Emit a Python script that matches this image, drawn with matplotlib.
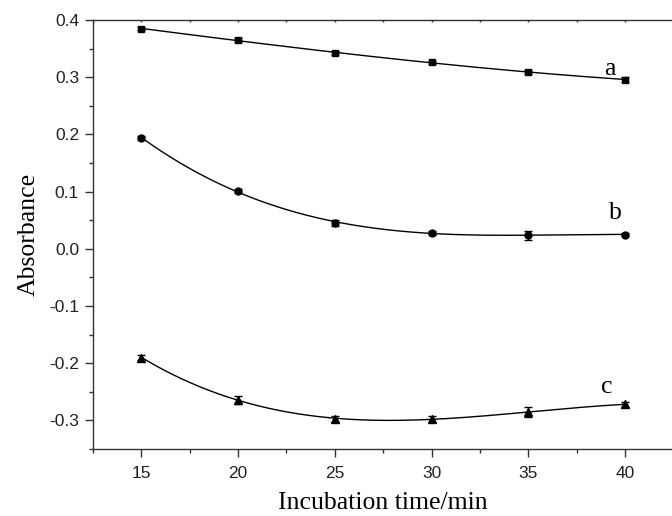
import numpy as np
import matplotlib
matplotlib.use("Agg")
import matplotlib.pyplot as plt
from matplotlib.ticker import MultipleLocator

# Incubation time (min)
time_min = [15, 20, 25, 30, 35, 40]

# Absorbance readings and standard deviations for each series
abs_a = [0.385, 0.365, 0.342, 0.326, 0.309, 0.296]
err_a = [0.003, 0.004, 0.003, 0.003, 0.004, 0.004]

abs_b = [0.194, 0.101, 0.045, 0.028, 0.024, 0.025]
err_b = [0.004, 0.004, 0.005, 0.004, 0.008, 0.003]

abs_c = [-0.190, -0.264, -0.297, -0.298, -0.285, -0.272]
err_c = [0.005, 0.007, 0.005, 0.005, 0.009, 0.004]

series_labels = ["a", "b", "c"]

serif = "Liberation Serif"
sans = "Liberation Sans"

fig = plt.figure(figsize=(6.72, 5.16), dpi=100)
ax = fig.add_axes([0.1384, 0.1298, 0.8636, 0.8314])

spine_col = "#333333"
series = [
    (abs_a, err_a, "s", 5.0),
    (abs_b, err_b, "o", 5.0),
    (abs_c, err_c, "^", 5.5),
]

x = np.array(time_min, dtype=float)
xs = np.linspace(x.min(), x.max(), 300)
for yv, ev, mk, ms in series:
    y = np.array(yv)
    # smooth cubic trend through the measurements
    coef = np.polyfit(x, y, 3)
    ax.plot(xs, np.polyval(coef, xs), color="black", lw=1.0, zorder=2)
    ax.errorbar(x, y, yerr=ev, fmt=mk, ms=ms, color="black", mfc="black",
                mec="black", ecolor="black", elinewidth=1.0, capsize=3,
                capthick=1.0, zorder=3)

# series labels near the right end of each curve
label_pos = [(39.2, abs_a[-1] + 0.019), (39.5, abs_b[-1] + 0.037), (39.05, abs_c[-1] + 0.03)]
for lab, (lx, ly) in zip(series_labels, label_pos):
    ax.text(lx, ly, lab, fontsize=18.5, family=serif, ha="center", va="center")

ax.set_xlim(12.5, 42.5)
ax.set_ylim(-0.35, 0.4)
ax.xaxis.set_minor_locator(MultipleLocator(2.5))
ax.yaxis.set_minor_locator(MultipleLocator(0.05))
ax.set_xticks(time_min)
ax.set_yticks([-0.3, -0.2, -0.1, 0.0, 0.1, 0.2, 0.3, 0.4])
ax.set_yticklabels(["-0.3", "-0.2", "-0.1", "0.0", "0.1", "0.2", "0.3", "0.4"])

for s in ["left", "bottom", "top"]:
    ax.spines[s].set_color(spine_col)
    ax.spines[s].set_linewidth(1.0)
ax.spines["right"].set_visible(False)

ax.tick_params(axis="both", which="major", direction="out", length=5.5,
               width=1.0, color=spine_col, labelsize=12.5)
ax.tick_params(axis="x", which="major", pad=6.5)
ax.tick_params(axis="y", which="major", pad=4.5)
ax.tick_params(axis="both", which="minor", direction="out", length=3,
               width=1.0, color=spine_col)
ax.tick_params(axis="x", which="both", top=True)
for lbl in ax.get_xticklabels() + ax.get_yticklabels():
    lbl.set_family(sans)
    lbl.set_color("#222222")

# short inward ticks on the top spine
for tl in ax.xaxis.get_majorticklines()[1::2] + ax.xaxis.get_minorticklines()[1::2]:
    tl.set_marker(3)
    tl.set_markersize(1.5)

ax.set_xlabel("Incubation time/min", fontsize=18.5, family=serif, labelpad=8)
ax.set_ylabel("Absorbance", fontsize=18.5, family=serif, labelpad=7)

fig.savefig("out.png", dpi=100)
